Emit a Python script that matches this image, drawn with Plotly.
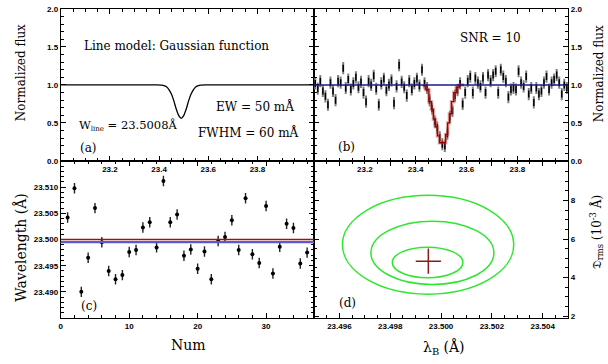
import plotly.graph_objects as go

# ---------------- data ----------------
# panel (a): model line profile
model_wave = [23.00, 23.30, 23.39, 23.41, 23.42, 23.43, 23.44, 23.45, 23.46, 23.47, 23.48, 23.49,
              23.50, 23.51, 23.52, 23.53, 23.54, 23.55, 23.56, 23.57, 23.59, 23.70, 24.03]
model_flux = [1.00, 1.00, 1.00, 0.997, 0.991, 0.976, 0.94, 0.88, 0.79, 0.68, 0.596, 0.56,
              0.596, 0.68, 0.79, 0.88, 0.94, 0.976, 0.991, 0.997, 1.00, 1.00, 1.00]

# panel (b): simulated spectrum, SNR = 10
wave_b = [23.005, 23.015, 23.025, 23.035, 23.045, 23.055, 23.065, 23.075, 23.085, 23.095,
          23.105, 23.115, 23.125, 23.135, 23.145, 23.155, 23.165, 23.175, 23.185, 23.195,
          23.205, 23.215, 23.225, 23.235, 23.245, 23.255, 23.265, 23.275, 23.285, 23.295,
          23.305, 23.315, 23.325, 23.335, 23.345, 23.355, 23.365, 23.375, 23.385, 23.395,
          23.405, 23.415, 23.425, 23.435, 23.445, 23.455, 23.465, 23.475, 23.485, 23.495,
          23.505, 23.515, 23.525, 23.535, 23.545, 23.555, 23.565, 23.575, 23.585, 23.595,
          23.605, 23.615, 23.625, 23.635, 23.645, 23.655, 23.665, 23.675, 23.685, 23.695,
          23.705, 23.715, 23.725, 23.735, 23.745, 23.755, 23.765, 23.775, 23.785, 23.795,
          23.805, 23.815, 23.825, 23.835, 23.845, 23.855, 23.865, 23.875, 23.885, 23.895,
          23.905, 23.915, 23.925, 23.935, 23.945, 23.955, 23.965, 23.975, 23.985, 23.995]
flux_b = [1.02, 0.95, 1.05, 0.92, 0.85, 0.74, 1.03, 0.92, 0.80, 1.05,
          1.03, 1.22, 0.96, 1.07, 0.94, 1.02, 1.10, 0.97, 1.04, 0.90,
          0.78, 1.05, 1.00, 1.12, 0.95, 0.74, 1.02, 1.08, 0.93, 1.00,
          1.06, 0.76, 0.98, 1.26, 1.04, 0.97, 0.86, 1.05, 0.94, 1.02,
          1.08, 0.99, 1.20, 1.02, 0.96, 0.80, 0.69, 0.52, 0.44, 0.31,
          0.22, 0.20, 0.36, 0.58, 0.66, 0.86, 0.93, 1.02, 0.75, 0.90,
          1.05, 1.11, 0.90, 1.09, 1.03, 0.98, 1.09, 0.90, 1.13, 1.05,
          1.13, 1.18, 0.90, 1.20, 1.11, 1.05, 0.84, 0.94, 0.96, 0.94,
          1.18, 1.03, 0.98, 1.11, 0.88, 0.96, 0.77, 0.96, 0.88, 0.92,
          1.03, 1.11, 0.94, 1.03, 1.07, 1.13, 1.03, 0.88, 1.00, 0.96]
flux_err_b = 0.08

# binned model (red step line) in panel (b)
step_wave = [23.428, 23.440, 23.452, 23.462, 23.470, 23.478, 23.486, 23.494, 23.518, 23.526,
             23.533, 23.541, 23.550, 23.560, 23.572, 23.590]
step_flux = [0.99, 0.94, 0.78, 0.68, 0.55, 0.45, 0.33, 0.24, 0.35, 0.50,
             0.62, 0.78, 0.90, 0.97, 1.00, 1.00]
continuum = 1.0

# panel (c): fitted wavelengths per simulation
num_c = [1, 2, 3, 4, 5, 6, 7, 8, 9, 10, 11, 12, 13, 14, 15, 16, 17, 18,
         19, 20, 21, 22, 23, 24, 25, 26, 27, 28, 29, 30, 31, 32, 33, 34, 35, 36]
wl_c = [23.5042, 23.5098, 23.4900, 23.4965, 23.5060, 23.4995, 23.4940, 23.4924, 23.4932,
        23.4976, 23.4980, 23.5023, 23.5033, 23.4985, 23.5112, 23.5033, 23.5048, 23.4969,
        23.4981, 23.4944, 23.4977, 23.4924, 23.4997, 23.5005, 23.5037, 23.4980, 23.5079,
        23.4972, 23.4955, 23.5064, 23.4935, 23.4986, 23.5030, 23.5022, 23.4954, 23.4975]
wl_err_c = 0.001
true_wl = 23.5000
mean_wl = 23.4995

# panel (d): confidence contours (bounding boxes) and best fit
ell_x0 = [23.49808, 23.49724, 23.49612]
ell_x1 = [23.50086, 23.50208, 23.50286]
ell_y0 = [3.99, 3.64, 3.14]
ell_y1 = [5.58, 6.93, 8.27]
best_lam = [23.4995]
best_d = [4.85]

# ---------------- figure ----------------
XL, XM, XR = 0.0970, 0.5148, 0.9342
YB, YM, YT = 0.1154, 0.5577, 0.9863

tickfont = dict(family="Liberation Sans", size=8, color="black", weight="bold")
serif = "DejaVu Serif"

def axis(**kw):
    d = dict(showline=True, linecolor="black", linewidth=1, mirror="allticks",
             ticks="inside", ticklen=5, tickwidth=1, tickcolor="black",
             showgrid=False, zeroline=False, tickfont=tickfont)
    d.update(kw)
    return d

fig = go.Figure()

# (a)
fig.add_trace(go.Scatter(x=model_wave, y=model_flux, mode="lines",
                         line=dict(color="black", width=1.3, shape="spline", smoothing=0.5),
                         xaxis="x", yaxis="y", showlegend=False))
# (b)
fig.add_trace(go.Scatter(x=wave_b, y=flux_b, mode="markers",
                         marker=dict(symbol="line-ns-open", size=5, color="black",
                                     line=dict(color="black", width=1.5)),
                         error_y=dict(type="constant", value=flux_err_b, color="#808080",
                                      thickness=2, width=0),
                         xaxis="x2", yaxis="y2", showlegend=False))
fig.add_trace(go.Scatter(x=step_wave, y=step_flux, mode="lines",
                         line=dict(color="rgba(205,90,90,0.5)", width=3.5, shape="hv"),
                         xaxis="x2", yaxis="y2", showlegend=False))
fig.add_trace(go.Scatter(x=step_wave, y=step_flux, mode="lines",
                         line=dict(color="#990000", width=1.3, shape="hv"),
                         xaxis="x2", yaxis="y2", showlegend=False))
# (c)
fig.add_trace(go.Scatter(x=num_c, y=wl_c, mode="markers",
                         marker=dict(symbol="circle", size=4, color="black"),
                         error_y=dict(type="constant", value=wl_err_c, color="#222222",
                                      thickness=1.4, width=0),
                         xaxis="x3", yaxis="y3", showlegend=False))
# (d)
fig.add_trace(go.Scatter(x=best_lam, y=best_d, mode="markers",
                         marker=dict(symbol="cross-thin", size=18,
                                     line=dict(color="#8b1a1a", width=1.5)),
                         xaxis="x4", yaxis="y4", showlegend=False))

shapes = []
shapes.append(dict(type="line", xref="x2 domain", yref="y2", x0=0, x1=1,
                   y0=continuum, y1=continuum, line=dict(color="#1a1a8c", width=1.5)))
shapes.append(dict(type="line", xref="x3 domain", yref="y3", x0=0, x1=1,
                   y0=mean_wl, y1=mean_wl, line=dict(color="#5a5acc", width=2.2)))
shapes.append(dict(type="line", xref="x3 domain", yref="y3", x0=0, x1=1,
                   y0=true_wl, y1=true_wl, line=dict(color="#a01010", width=1.4)))
for a, b, c, d in zip(ell_x0, ell_x1, ell_y0, ell_y1):
    shapes.append(dict(type="circle", xref="x4", yref="y4", x0=a, x1=b, y0=c, y1=d,
                       line=dict(color="#2ee62e", width=1.5)))

top_ticks = [23.2, 23.4, 23.6, 23.8]
fig.update_layout(
    width=608, height=364,
    margin=dict(l=0, r=0, t=0, b=0),
    paper_bgcolor="white", plot_bgcolor="rgba(0,0,0,0)",
    shapes=shapes,
    xaxis=axis(domain=[XL, XM], range=[23.0, 24.03], tickvals=top_ticks,
               ticktext=["23.2", "23.4", "23.6", "23.8"], anchor="y",
               minor=dict(ticks="inside", ticklen=3, dtick=0.05, tickcolor="black")),
    yaxis=axis(domain=[YM, YT], range=[0, 2], tickvals=[0, 0.5, 1, 1.5, 2],
               ticktext=["0.0", "0.5", "1.0", "1.5", "2.0"], anchor="x",
               minor=dict(ticks="inside", ticklen=3, dtick=0.1, tickcolor="black")),
    xaxis2=axis(domain=[XM, XR], range=[23.0, 24.0], tickvals=top_ticks,
                ticktext=["23.2", "23.4", "23.6", "23.8"], anchor="y2",
                minor=dict(ticks="inside", ticklen=3, dtick=0.05, tickcolor="black")),
    yaxis2=axis(domain=[YM, YT], range=[0, 2], tickvals=[0, 0.5, 1, 1.5, 2],
                ticktext=["0.0", "0.5", "1.0", "1.5", "2.0"], anchor="x2", side="right",
                minor=dict(ticks="inside", ticklen=3, dtick=0.1, tickcolor="black")),
    xaxis3=axis(domain=[XL, XM], range=[0, 37], tickvals=[0, 10, 20, 30], anchor="y3",
                minor=dict(ticks="inside", ticklen=3, dtick=2, tickcolor="black")),
    yaxis3=axis(domain=[YB, YM], range=[23.485, 23.515],
                tickvals=[23.490, 23.495, 23.500, 23.505, 23.510],
                ticktext=["23.490", "23.495", "23.500", "23.505", "23.510"], anchor="x3",
                minor=dict(ticks="inside", ticklen=3, dtick=0.001, tickcolor="black")),
    xaxis4=axis(domain=[XM, XR], range=[23.495, 23.505],
                tickvals=[23.496, 23.498, 23.500, 23.502, 23.504],
                ticktext=["23.496", "23.498", "23.500", "23.502", "23.504"], anchor="y4",
                minor=dict(ticks="inside", ticklen=3, dtick=0.0005, tickcolor="black")),
    yaxis4=axis(domain=[YB, YM], range=[1.9, 10.05], tickvals=[2, 4, 6, 8],
                ticktext=["2", "4", "6", "8"], anchor="x4", side="right",
                minor=dict(ticks="inside", ticklen=3, dtick=0.5, tickcolor="black")),
)

def txt(s, x, y, size=12, xanchor="left", angle=0):
    fig.add_annotation(text=s, x=x, y=y, xref="paper", yref="paper", showarrow=False,
                       xanchor=xanchor, yanchor="middle", textangle=angle,
                       font=dict(family=serif, size=size, color="black"))

W, H = 608.0, 364.0
txt("Line model: Gaussian function", 80 / W, 1 - 43 / H)
txt("W<sub><span style='font-size:7px'>line</span></sub> = 23.5008Å", 75 / W, 1 - 125 / H, size=11.5)
txt("EW = 50 mÅ", 213 / W, 1 - 105 / H)
txt("FWHM = 60 mÅ", 195 / W, 1 - 132 / H)
txt("(a)", 76 / W, 1 - 148 / H)
txt("SNR = 10", 458 / W, 1 - 35 / H)
txt("(b)", 335 / W, 1 - 147 / H)
txt("(c)", 77 / W, 1 - 310 / H)
txt("(d)", 336 / W, 1 - 307 / H)

txt("Normalized flux", 19 / W, 1 - 70 / H, size=12, xanchor="center", angle=-90)
txt("Wavelength (Å)", 19 / W, 1 - 249 / H, size=14, xanchor="center", angle=-90)
txt("Num", 187 / W, 1 - 350 / H, size=14, xanchor="center")
txt("λ<sub>B</sub> (Å)", 443 / W, 1 - 352 / H, size=14, xanchor="center")
txt("Normalized flux", 599 / W, 1 - 72 / H, size=12, xanchor="center", angle=-90)
txt("𝔇<sub>rms</sub> (10<sup>-3</sup> Å)", 597 / W, 1 - 234 / H, size=12, xanchor="center", angle=-90)

fig.write_html("out.html")
